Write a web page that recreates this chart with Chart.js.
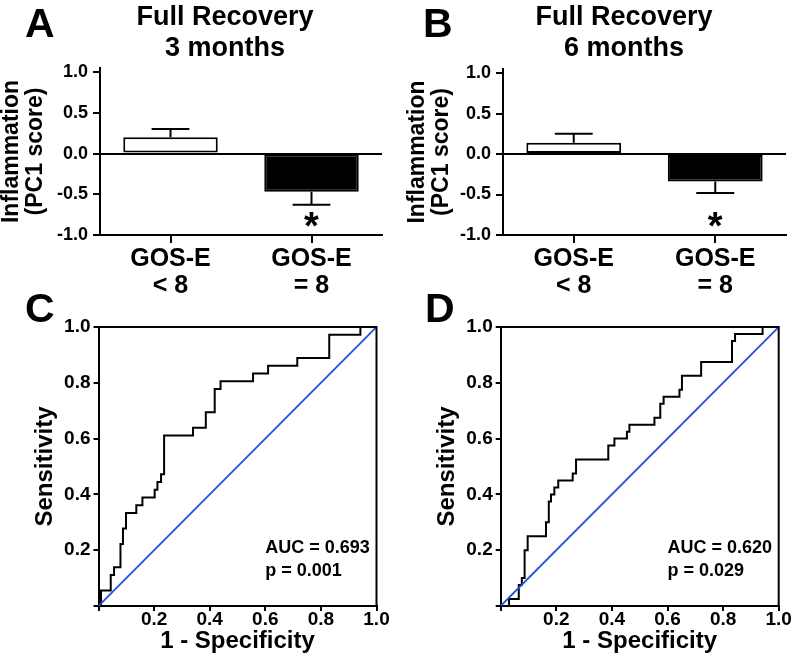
<!DOCTYPE html>
<html lang="en">
<head>
<meta charset="UTF-8">
<title>Full Recovery - PC1 and ROC</title>
<script src="https://cdn.jsdelivr.net/npm/chart.js@4.4.1/dist/chart.umd.min.js"></script>
<style>
    body { margin: 0; width: 792px; height: 658px; overflow: hidden; background: #fff; position: relative; }
    .panel { position: absolute; }
</style>
</head>
<body>
<div class="panel" style="left:0;top:0;width:396px;height:305px"><canvas id="chartA"></canvas></div>
<div class="panel" style="left:396px;top:0;width:396px;height:305px"><canvas id="chartB"></canvas></div>
<div class="panel" style="left:0;top:270px;width:396px;height:388px"><canvas id="chartC"></canvas></div>
<div class="panel" style="left:396px;top:270px;width:396px;height:388px"><canvas id="chartD"></canvas></div>

<script>
    // --- data ---
    const groups = [['GOS-E', '< 8'], ['GOS-E', '= 8']];
    const pc1Ticks = [-1, -0.5, 0, 0.5, 1];

    const pc1Mean3m = [0.20, -0.47];
    const pc1Sem3m = [0.10, 0.16];
    const pc1Mean6m = [0.14, -0.34];
    const pc1Sem6m = [0.11, 0.14];
    const significant = [false, true];

    // ROC corner points (1 - specificity, sensitivity)
    const roc3mFpr = [0, 0.009, 0.044, 0.056, 0.079, 0.088, 0.099, 0.136, 0.158, 0.202, 0.212, 0.225, 0.236,
        0.340, 0.386, 0.418, 0.439, 0.556, 0.610, 0.715, 0.830, 0.942, 1.0];
    const roc3mTpr = [0, 0.056, 0.111, 0.139, 0.222, 0.278, 0.333, 0.361, 0.389, 0.417, 0.444, 0.472, 0.611,
        0.639, 0.694, 0.778, 0.806, 0.833, 0.861, 0.889, 0.972, 1.0, 1.0];

    const roc6mFpr = [0, 0.030, 0.065, 0.076, 0.086, 0.097, 0.163, 0.173, 0.181, 0.193, 0.207, 0.259, 0.271,
        0.387, 0.409, 0.454, 0.463, 0.553, 0.574, 0.586, 0.643, 0.652, 0.721, 0.832, 0.843, 0.942, 1.0];
    const roc6mTpr = [0, 0.025, 0.075, 0.100, 0.200, 0.250, 0.300, 0.375, 0.400, 0.425, 0.450, 0.475, 0.525,
        0.575, 0.600, 0.625, 0.650, 0.675, 0.725, 0.750, 0.775, 0.825, 0.875, 0.950, 0.975, 1.0, 1.0];

    const stats3m = ['AUC = 0.693', 'p = 0.001'];
    const stats6m = ['AUC = 0.620', 'p = 0.029'];

    const FONT = "'Liberation Sans', Arial, Helvetica, sans-serif";
    Chart.defaults.font.family = FONT;
    Chart.defaults.font.weight = 'bold';
    Chart.defaults.color = '#000';
    Chart.defaults.animation = false;

    // panel letter + heading
    const panelText = {
        id: 'panelText',
        afterDraw(chart, args, o) {
            const ctx = chart.ctx;
            ctx.save();
            ctx.fillStyle = '#000';
            ctx.textBaseline = 'alphabetic';
            ctx.font = 'bold 41px ' + FONT;
            ctx.textAlign = 'left';
            ctx.fillText(o.letter, o.letterX, o.letterY);
            if (o.title) {
                ctx.font = 'bold 27px ' + FONT;
                ctx.textAlign = 'center';
                o.title.forEach((t, i) => ctx.fillText(t, o.titleX, o.titleY + i * 31));
            }
            ctx.restore();
        }
    };

    // one-sided SEM bars and significance star
    const errorBars = {
        id: 'errorBars',
        afterDatasetsDraw(chart) {
            const ctx = chart.ctx;
            const yScale = chart.scales.y;
            chart.data.datasets.forEach((ds, di) => {
                if (!ds.errors) return;
                chart.getDatasetMeta(di).data.forEach((bar, i) => {
                    const v = ds.data[i];
                    const end = yScale.getPixelForValue(v + Math.sign(v) * ds.errors[i]);
                    const half = bar.width * 0.2;
                    ctx.save();
                    ctx.strokeStyle = '#000';
                    ctx.lineWidth = 2;
                    ctx.beginPath();
                    ctx.moveTo(bar.x, bar.y);
                    ctx.lineTo(bar.x, end);
                    ctx.moveTo(bar.x - half, end);
                    ctx.lineTo(bar.x + half, end);
                    ctx.stroke();
                    if (ds.stars && ds.stars[i]) {
                        ctx.fillStyle = '#000';
                        ctx.font = 'bold 38px ' + FONT;
                        ctx.textAlign = 'center';
                        ctx.textBaseline = 'alphabetic';
                        ctx.fillText('*', bar.x, yScale.getPixelForValue(-0.79) + 21);
                    }
                    ctx.restore();
                });
            });
        }
    };

    // top/right sides of the ROC box
    const frame = {
        id: 'frame',
        afterDraw(chart) {
            const {ctx, chartArea: a} = chart;
            ctx.save();
            ctx.strokeStyle = '#000';
            ctx.lineWidth = 2;
            ctx.beginPath();
            ctx.moveTo(a.left, a.top);
            ctx.lineTo(a.right, a.top);
            ctx.lineTo(a.right, a.bottom);
            ctx.stroke();
            ctx.restore();
        }
    };

    // AUC / p text, anchored in data units
    const statText = {
        id: 'statText',
        afterDraw(chart, args, o) {
            const ctx = chart.ctx;
            const x = chart.scales.x.getPixelForValue(o.x);
            const y = chart.scales.y.getPixelForValue(o.y);
            ctx.save();
            ctx.fillStyle = '#000';
            ctx.font = 'bold 18px ' + FONT;
            ctx.textAlign = 'left';
            ctx.textBaseline = 'middle';
            o.lines.forEach((t, i) => ctx.fillText(t, x, y + i * 23));
            ctx.restore();
        }
    };

    function barChart(id, means, sems, letter, titleLines, layout) {
        return new Chart(document.getElementById(id), {
            type: 'bar',
            data: {
                labels: groups,
                datasets: [{
                    data: means,
                    errors: sems,
                    stars: significant,
                    backgroundColor: ['#ffffff', '#000000'],
                    borderColor: '#000',
                    borderWidth: 2,
                    borderSkipped: false,
                    categoryPercentage: 1,
                    barPercentage: 0.67
                }]
            },
            options: {
                responsive: true,
                maintainAspectRatio: false,
                layout: { padding: { top: layout.top, right: layout.right, bottom: 0, left: 0 } },
                plugins: {
                    legend: { display: false },
                    tooltip: { enabled: false },
                    panelText: { letter: letter, letterX: layout.letterX, letterY: 37,
                        title: titleLines, titleX: layout.titleX, titleY: 25 }
                },
                scales: {
                    x: {
                        offset: true,
                        grid: { offset: false, drawOnChartArea: false, color: '#000', lineWidth: 2, tickLength: 8 },
                        border: { color: '#000', width: 2 },
                        ticks: { font: { size: 25, weight: 'bold', lineHeight: 1.1 }, padding: 2, maxRotation: 0 },
                        afterFit: s => { s.height = 70; }
                    },
                    y: {
                        min: -1,
                        max: 1.05,
                        afterBuildTicks: s => { s.ticks = pc1Ticks.map(v => ({ value: v })); },
                        ticks: { font: { size: 18, weight: 'bold' }, padding: 5,
                            callback: v => v.toFixed(1) },
                        grid: {
                            color: c => (c.tick && c.tick.value === 0) ? '#000' : 'rgba(0,0,0,0)',
                            tickColor: '#000',
                            lineWidth: 2,
                            tickLength: 7
                        },
                        border: { color: '#000', width: 2 },
                        title: { display: true, text: ['Inflammation', '(PC1 score)'],
                            font: { size: 23, weight: 'bold', lineHeight: 1.04 },
                            padding: { top: layout.titlePad, bottom: 0 } },
                        afterFit: s => { s.width = layout.yWidth; }
                    }
                }
            },
            plugins: [errorBars, panelText]
        });
    }

    function rocChart(id, fpr, tpr, stats, letter, layout) {
        const curve = fpr.map((x, i) => ({ x: x, y: tpr[i] }));
        return new Chart(document.getElementById(id), {
            type: 'scatter',
            data: {
                datasets: [{
                    data: [{ x: 0, y: 0 }, { x: 1, y: 1 }],
                    showLine: true,
                    borderColor: '#2152d8',
                    borderWidth: 1.8,
                    pointRadius: 0
                }, {
                    data: curve,
                    showLine: true,
                    stepped: 'before',
                    borderColor: '#000',
                    borderWidth: 2,
                    pointRadius: 0
                }]
            },
            options: {
                responsive: true,
                maintainAspectRatio: false,
                layout: { padding: { top: 57, right: layout.right, bottom: 2, left: 0 } },
                plugins: {
                    legend: { display: false },
                    tooltip: { enabled: false },
                    panelText: { letter: letter, letterX: layout.letterX, letterY: 52 },
                    statText: { x: 0.6, y: 0.207, lines: stats }
                },
                scales: {
                    x: {
                        type: 'linear',
                        min: 0,
                        max: 1,
                        ticks: { stepSize: 0.2, font: { size: 19, weight: 'bold' }, padding: -3,
                            callback: v => v === 0 ? '' : v.toFixed(1) },
                        grid: { drawOnChartArea: false, color: '#000', lineWidth: 2, tickLength: 5 },
                        border: { color: '#000', width: 2 },
                        title: { display: true, text: '1 - Specificity',
                            font: { size: 24, weight: 'bold', lineHeight: 1.2 }, padding: 0 },
                        afterFit: s => { s.height = 50; }
                    },
                    y: {
                        min: 0,
                        max: 1,
                        ticks: { stepSize: 0.2, font: { size: 19, weight: 'bold' }, padding: 3,
                            callback: v => v === 0 ? '' : v.toFixed(1) },
                        grid: { drawOnChartArea: false, color: '#000', lineWidth: 2, tickLength: 5 },
                        border: { color: '#000', width: 2 },
                        title: { display: true, text: 'Sensitivity',
                            font: { size: 24, weight: 'bold', lineHeight: 1.2 },
                            padding: { top: layout.titlePad, bottom: 0 } },
                        afterFit: s => { s.width = layout.yWidth; }
                    }
                }
            },
            plugins: [frame, statText, panelText]
        });
    }

    barChart('chartA', pc1Mean3m, pc1Sem3m, 'A', ['Full Recovery', '3 months'],
        { top: 68, right: 14, yWidth: 100, titlePad: 0, letterX: 25, titleX: 225 });
    barChart('chartB', pc1Mean6m, pc1Sem6m, 'B', ['Full Recovery', '6 months'],
        { top: 69, right: 6, yWidth: 107, titlePad: 10, letterX: 27, titleX: 228 });
    rocChart('chartC', roc3mFpr, roc3mTpr, stats3m, 'C',
        { right: 19.5, yWidth: 98.5, titlePad: 31, letterX: 25 });
    rocChart('chartD', roc6mFpr, roc6mTpr, stats6m, 'D',
        { right: 13.3, yWidth: 104.7, titlePad: 37, letterX: 29 });
</script>
</body>
</html>
